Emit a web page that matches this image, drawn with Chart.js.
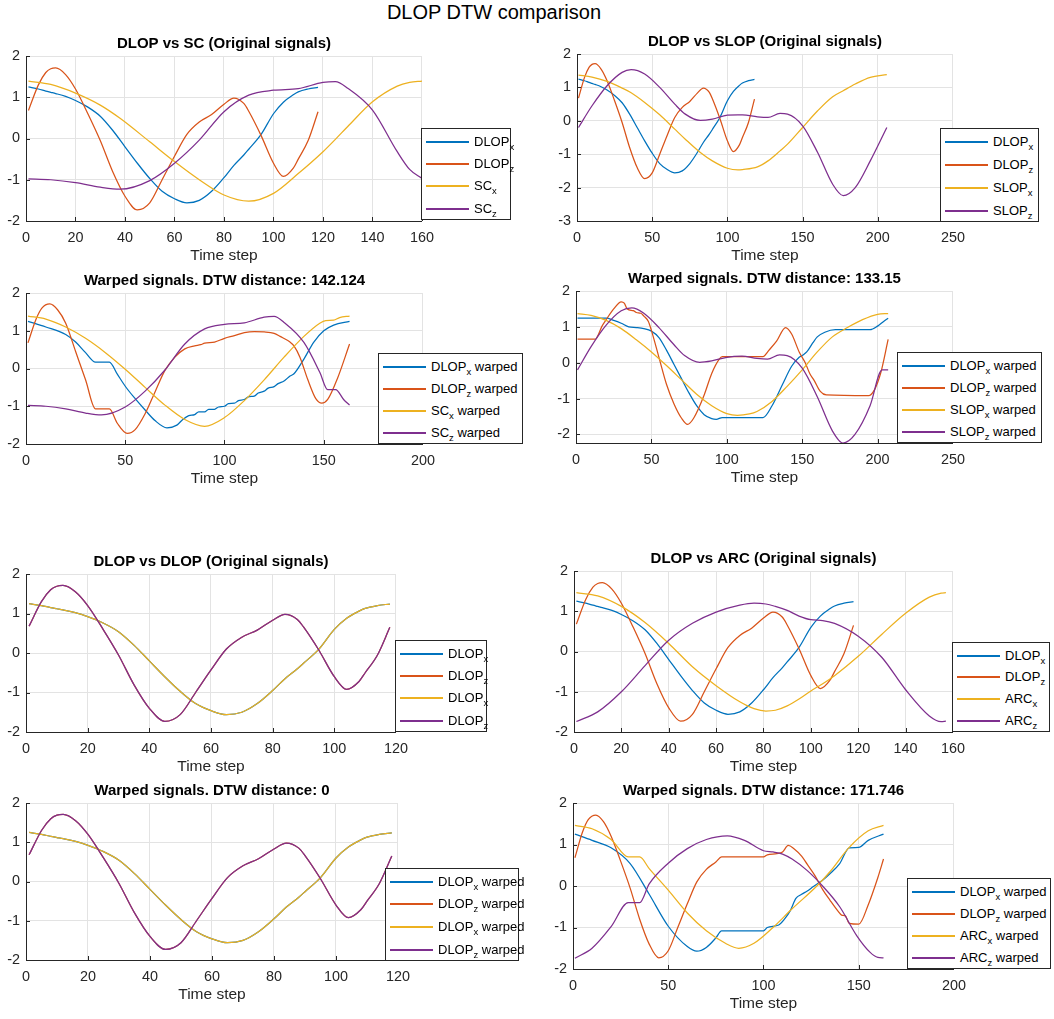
<!DOCTYPE html>
<html>
<head>
<meta charset="utf-8">
<title>DLOP DTW comparison</title>
<script src="https://cdn.jsdelivr.net/npm/chart.js@4.4.0/dist/chart.umd.min.js"></script>
<style>
  html, body { margin: 0; padding: 0; background: #fff; }
  body { width: 1054px; height: 1019px; position: relative; overflow: hidden;
         font-family: "Liberation Sans", Arial, Helvetica, sans-serif; }
  canvas.cv { position: absolute; }
  #suptitle { position: absolute; left: 294px; width: 400px; top: 0px; text-align: center;
              font-size: 20px; line-height: 24px; color: #000; }
  .lg { position: absolute; background: #fff; border: 1px solid #262626; box-sizing: border-box; z-index: 5; }
  .sw { position: absolute; height: 2px; }
  .tx { position: absolute; white-space: nowrap; font-size: 13px; line-height: 15px; height: 15px; color: #000; }
  .tx sub { font-size: 9.5px; vertical-align: -4px; line-height: 0; }
</style>
</head>
<body>
<div id="suptitle">DLOP DTW comparison</div>
<script>
// ---- original signals ----
const dlopT = [1,5,8,10,12,16,20,25,30,35,40,45,50,55,60,65,70,75,80,84,88,90,95,100,104,108,110,114,118];
const dlopX = [1.25,1.2,1.15,1.12,1.09,1.02,0.92,0.76,0.54,0.2,-0.2,-0.6,-0.97,-1.28,-1.46,-1.56,-1.5,-1.28,-0.95,-0.65,-0.4,-0.26,0.1,0.6,0.88,1.06,1.13,1.2,1.24];
const dlopZ = [0.68,1.3,1.6,1.69,1.71,1.55,1.2,0.6,-0.05,-0.8,-1.4,-1.73,-1.56,-1.0,-0.43,0.1,0.4,0.58,0.83,0.98,0.85,0.66,0.07,-0.6,-0.92,-0.72,-0.5,-0.05,0.65];

const scT = [1,10,20,30,38,50,60,70,80,90,100,110,120,125,130,140,150,155,160];
const scX = [1.39,1.31,1.1,0.81,0.49,-0.08,-0.56,-1.0,-1.37,-1.52,-1.33,-0.85,-0.32,-0.02,0.29,0.89,1.27,1.36,1.39];
const scZ = [-0.98,-1.0,-1.07,-1.18,-1.23,-1.02,-0.6,-0.04,0.65,1.05,1.17,1.21,1.36,1.38,1.22,0.69,-0.32,-0.75,-0.97];

const slopT = [1,10,20,30,36,45,55,65,72,82,90,100,107,110,120,127,135,140,150,160,170,177,185,195,206];
const slopX = [1.37,1.31,1.18,0.98,0.84,0.55,0.18,-0.25,-0.55,-0.95,-1.2,-1.42,-1.47,-1.46,-1.38,-1.2,-0.9,-0.7,-0.2,0.3,0.72,0.9,1.1,1.3,1.38];
const slopZ = [-0.2,0.45,1.05,1.45,1.53,1.4,1.0,0.5,0.2,0.01,0.05,0.17,0.18,0.18,0.12,0.1,0.22,0.2,-0.15,-0.95,-1.9,-2.24,-2.0,-1.2,-0.2];

const arcT = [1,10,20,30,40,50,60,70,76,81,85,90,95,100,105,110,120,130,140,150,155,157];
const arcX = [1.46,1.38,1.12,0.72,0.2,-0.38,-0.85,-1.25,-1.42,-1.48,-1.46,-1.35,-1.18,-0.98,-0.8,-0.6,-0.12,0.43,0.95,1.35,1.45,1.46];
const arcZ = [-1.74,-1.5,-1.0,-0.35,0.28,0.7,0.98,1.15,1.2,1.18,1.12,1.02,0.88,0.79,0.77,0.7,0.38,-0.15,-0.95,-1.6,-1.74,-1.73];

// ---- warped signals: DLOP vs SC ----
const swDlopXT = [1,10,20,25,30,35,42,46,50,55,60,65,71,76,79,82,85,87,90,92,95,97,100,102,105,107,110,112,115,117,120,122,125,127,130,133,135,140,145,150,155,163];
const swDlopX = [1.25,1.1,0.9,0.7,0.42,0.17,0.17,-0.15,-0.47,-0.8,-1.1,-1.38,-1.57,-1.5,-1.35,-1.25,-1.22,-1.15,-1.15,-1.08,-1.08,-1.02,-1.0,-0.93,-0.92,-0.85,-0.82,-0.75,-0.73,-0.65,-0.6,-0.52,-0.48,-0.4,-0.33,-0.2,-0.14,0.25,0.7,1.0,1.15,1.25];
const swDlopZT = [1,5,8,12,16,20,25,30,35,42,46,51,55,60,65,70,75,80,85,88,90,95,100,105,110,115,120,125,128,133,135,138,142,146,149,152,157,163];
const swDlopZ = [0.68,1.3,1.6,1.71,1.55,1.2,0.45,-0.3,-1.07,-1.07,-1.45,-1.72,-1.62,-1.2,-0.62,-0.05,0.3,0.52,0.6,0.63,0.67,0.7,0.8,0.87,0.95,0.98,0.97,0.93,0.85,0.7,0.6,0.3,-0.3,-0.8,-0.92,-0.82,-0.25,0.65];
const swScXT = [1,10,20,30,40,50,60,70,80,90,100,110,120,130,140,148,151,155,158,163];
const swScX = [1.39,1.31,1.1,0.8,0.42,-0.02,-0.5,-0.97,-1.35,-1.53,-1.3,-0.85,-0.3,0.3,0.85,1.2,1.27,1.28,1.35,1.39];
const swScZT = [1,10,20,30,38,50,60,70,80,90,100,110,120,125,130,140,148,152,156,160,163];
const swScZ = [-0.98,-1.0,-1.07,-1.18,-1.23,-1.02,-0.6,-0.04,0.65,1.05,1.17,1.21,1.36,1.38,1.22,0.69,-0.1,-0.56,-0.56,-0.82,-0.97];

// ---- warped signals: DLOP vs SLOP ----
const lwDlopXT = [1,20,25,30,35,40,45,50,55,60,65,70,75,80,85,90,93,97,124,130,137,143,148,150,153,157,160,165,172,195,200,204,207];
const lwDlopX = [1.24,1.24,1.18,1.1,1.0,0.98,0.95,0.88,0.7,0.35,-0.05,-0.45,-0.85,-1.2,-1.45,-1.56,-1.58,-1.53,-1.53,-1.2,-0.6,-0.1,0.15,0.2,0.3,0.55,0.72,0.85,0.92,0.92,1.02,1.15,1.24];
const lwDlopZT = [1,13,15,17,20,25,30,32,34,38,40,43,45,48,50,55,60,65,70,74,78,85,90,95,97,124,128,133,139,143,148,152,155,158,162,166,194,198,202,207];
const lwDlopZ = [0.66,0.66,0.8,1.0,1.2,1.5,1.7,1.66,1.5,1.45,1.4,1.38,1.3,1.15,0.9,0.15,-0.6,-1.15,-1.55,-1.72,-1.55,-0.9,-0.3,0.1,0.17,0.17,0.35,0.6,0.98,0.8,0.3,0.0,-0.3,-0.5,-0.8,-0.9,-0.92,-0.75,-0.3,0.65];
const lwSlopXT = [1,10,20,30,40,50,60,70,80,90,100,107,115,120,130,140,150,160,170,180,190,200,207];
const lwSlopX = [1.37,1.32,1.18,0.95,0.64,0.3,-0.08,-0.48,-0.88,-1.2,-1.42,-1.47,-1.43,-1.36,-1.08,-0.66,-0.2,0.3,0.72,0.98,1.2,1.35,1.37];
const lwSlopZT = [1,10,20,30,37,45,55,65,72,82,90,100,110,120,127,135,140,150,160,170,177,185,195,203,207];
const lwSlopZ = [-0.2,0.45,1.05,1.45,1.53,1.38,0.98,0.5,0.2,0.01,0.05,0.15,0.18,0.12,0.1,0.22,0.2,-0.15,-0.95,-1.9,-2.24,-2.0,-1.2,-0.2,-0.2];

// ---- warped signals: DLOP vs ARC ----
const awDlopXT = [1,10,20,30,40,50,60,65,70,75,78,100,102,108,111,114,117,120,123,126,129,131,135,140,145,150,155,163];
const awDlopX = [1.25,1.1,0.92,0.54,-0.2,-0.97,-1.46,-1.57,-1.48,-1.25,-1.08,-1.08,-1.0,-0.94,-0.8,-0.6,-0.3,-0.2,-0.12,-0.02,0.08,0.14,0.3,0.54,0.92,0.93,1.1,1.25];
const awDlopZT = [1,5,8,12,16,20,25,30,35,40,45,50,55,60,65,70,75,78,100,102,107,110,113,116,120,123,127,131,135,139,141,143,145,150,155,160,163];
const awDlopZ = [0.68,1.3,1.6,1.71,1.55,1.2,0.6,-0.05,-0.8,-1.4,-1.73,-1.56,-1.0,-0.43,0.1,0.4,0.58,0.7,0.7,0.75,0.78,0.82,0.98,0.9,0.72,0.52,0.25,-0.08,-0.35,-0.6,-0.7,-0.72,-0.9,-0.92,-0.45,0.2,0.65];
const awArcXT = [1,10,20,29,35,40,50,60,70,80,87,95,105,115,128,135,145,155,163];
const awArcX = [1.46,1.38,1.12,0.7,0.7,0.42,-0.1,-0.65,-1.08,-1.38,-1.5,-1.38,-1.0,-0.55,0.0,0.35,0.93,1.33,1.46];
const awArcZT = [1,10,20,29,35,40,50,60,70,81,90,100,105,110,115,123,131,140,149,156,160,163];
const awArcZ = [-1.74,-1.5,-0.98,-0.4,-0.4,0.05,0.55,0.9,1.12,1.21,1.1,0.85,0.82,0.77,0.65,0.37,0.0,-0.5,-1.2,-1.6,-1.72,-1.73];

// ---- axis ticks ----
const ticks20to120 = [0,20,40,60,80,100,120];
const ticks20to160 = [0,20,40,60,80,100,120,140,160];
const ticks50to200 = [0,50,100,150,200];
const ticks50to250 = [0,50,100,150,200,250];
const yTicks2 = [-2,-1,0,1,2];
const yTicks3 = [-3,-2,-1,0,1,2];

const COLORS = ['#0072BD', '#D95319', '#EDB120', '#7E2F8E'];

function names(a, b, suffix) {
  return [[a,'x',suffix],[a,'z',suffix],[b,'x',suffix],[b,'z',suffix]];
}

// plot box [left, top, right, bottom] and legend box in page pixels
const panels = [
  { box:[26,56,422,221], title:'DLOP vs SC (Original signals)', xMax:160, xTicks:ticks20to160, yMin:-2, yTicks:yTicks2,
    series:[[dlopT,dlopX],[dlopT,dlopZ],[scT,scX],[scT,scZ]], leg:[421,128,511,220], labels:names('DLOP','SC','') },
  { box:[577,54,953,221], title:'DLOP vs SLOP (Original signals)', xMax:250, xTicks:ticks50to250, yMin:-3, yTicks:yTicks3,
    series:[[dlopT,dlopX],[dlopT,dlopZ],[slopT,slopX],[slopT,slopZ]], leg:[940,128,1039,222], labels:names('DLOP','SLOP','') },
  { box:[26,293,423,444], title:'Warped signals. DTW distance: 142.124', xMax:200, xTicks:ticks50to200, yMin:-2, yTicks:yTicks2,
    series:[[swDlopXT,swDlopX],[swDlopZT,swDlopZ],[swScXT,swScX],[swScZT,swScZ]], leg:[378,353,523,444], labels:names('DLOP','SC',' warped') },
  { box:[576,291,953,443], title:'Warped signals. DTW distance: 133.15', xMax:250, xTicks:ticks50to250, yMin:-2.24, yTicks:yTicks2,
    series:[[lwDlopXT,lwDlopX],[lwDlopZT,lwDlopZ],[lwSlopXT,lwSlopX],[lwSlopZT,lwSlopZ]], leg:[897,352,1042,443], labels:names('DLOP','SLOP',' warped') },
  { box:[26,574,396,732], title:'DLOP vs DLOP (Original signals)', xMax:120, xTicks:ticks20to120, yMin:-2, yTicks:yTicks2,
    series:[[dlopT,dlopX],[dlopT,dlopZ],[dlopT,dlopX],[dlopT,dlopZ]], leg:[395,640,487,732], labels:names('DLOP','DLOP','') },
  { box:[574,571,953,732], title:'DLOP vs ARC (Original signals)', xMax:160, xTicks:ticks20to160, yMin:-2, yTicks:yTicks2,
    series:[[dlopT,dlopX],[dlopT,dlopZ],[arcT,arcX],[arcT,arcZ]], leg:[952,642,1050,732], labels:names('DLOP','ARC','') },
  { box:[26,803,398,960], title:'Warped signals. DTW distance: 0', xMax:120, xTicks:ticks20to120, yMin:-2, yTicks:yTicks2,
    series:[[dlopT,dlopX],[dlopT,dlopZ],[dlopT,dlopX],[dlopT,dlopZ]], leg:[385,868,519,961], labels:names('DLOP','DLOP',' warped') },
  { box:[573,803,954,969], title:'Warped signals. DTW distance: 171.746', xMax:200, xTicks:ticks50to200, yMin:-2, yTicks:yTicks2,
    series:[[awDlopXT,awDlopX],[awDlopZT,awDlopZ],[awArcXT,awArcX],[awArcZT,awArcZ]], leg:[907,878,1051,969], labels:names('DLOP','ARC',' warped') }
];

// axes title above each plot area plus short inward tick marks
const axesDecor = {
  id: 'axesDecor',
  afterDraw(chart, args, opts) {
    const { ctx, chartArea: a, scales } = chart;
    ctx.save();
    ctx.strokeStyle = '#262626';
    ctx.lineWidth = 1;
    ctx.beginPath();
    scales.x.ticks.forEach(t => {
      const px = Math.round(scales.x.getPixelForValue(t.value)) + 0.5;
      ctx.moveTo(px, a.bottom); ctx.lineTo(px, a.bottom - 4);
    });
    scales.y.ticks.forEach(t => {
      const py = Math.round(scales.y.getPixelForValue(t.value)) + 0.5;
      ctx.moveTo(a.left, py); ctx.lineTo(a.left + 4, py);
    });
    ctx.stroke();
    ctx.font = 'bold 15px "Liberation Sans", Arial, sans-serif';
    ctx.fillStyle = '#000';
    ctx.textAlign = 'center';
    ctx.textBaseline = 'middle';
    ctx.fillText(opts.text, (a.left + a.right) / 2, a.top - 12.5);
    ctx.restore();
  }
};

const PAD_L = 34, PAD_T = 32, PAD_R = 20, PAD_B = 46;

panels.forEach(p => {
  const [L, T, R, B] = p.box;
  const W = R - L + PAD_L + PAD_R, H = B - T + PAD_T + PAD_B;
  const cv = document.createElement('canvas');
  cv.className = 'cv';
  cv.width = W; cv.height = H;
  cv.style.left = (L - PAD_L) + 'px';
  cv.style.top = (T - PAD_T) + 'px';
  cv.style.width = W + 'px'; cv.style.height = H + 'px';
  document.body.appendChild(cv);

  new Chart(cv, {
    type: 'line',
    data: {
      // later series are painted over earlier ones
      datasets: p.series.map((s, i) => ({
        data: s[0].map((t, k) => ({ x: t, y: s[1][k] })),
        borderColor: COLORS[i],
        borderWidth: 1.25,
        pointRadius: 0,
        fill: false,
        order: p.series.length - i,
        cubicInterpolationMode: 'monotone'
      }))
    },
    options: {
      responsive: false,
      animation: false,
      events: [],
      layout: { padding: { top: PAD_T, right: PAD_R, left: 0, bottom: 0 }, autoPadding: false },
      plugins: { legend: { display: false }, tooltip: { enabled: false }, axesDecor: { text: p.title } },
      scales: {
        x: {
          type: 'linear', min: 0, max: p.xMax,
          afterBuildTicks: s => { s.ticks = p.xTicks.map(v => ({ value: v })); },
          afterFit: s => { s.height = PAD_B; },
          grid: { color: '#e3e3e3', lineWidth: 1, drawTicks: false },
          border: { color: '#262626', width: 1 },
          ticks: { color: '#262626', font: { size: 14.4, family: '"Liberation Sans", Arial, sans-serif' },
                   padding: 8, maxRotation: 0, autoSkip: false, callback: v => String(v) },
          title: { display: true, text: 'Time step', color: '#262626', padding: { top: 0, bottom: 2 },
                   font: { size: 15.5, family: '"Liberation Sans", Arial, sans-serif' } }
        },
        y: {
          type: 'linear', min: p.yMin, max: 2,
          afterBuildTicks: s => { s.ticks = p.yTicks.map(v => ({ value: v })); },
          afterFit: s => { s.width = PAD_L; },
          grid: { color: '#e3e3e3', lineWidth: 1, drawTicks: false },
          border: { color: '#262626', width: 1 },
          ticks: { color: '#262626', font: { size: 14.4, family: '"Liberation Sans", Arial, sans-serif' },
                   padding: 6, callback: v => String(v) }
        }
      }
    },
    plugins: [axesDecor]
  });

  // legend box with sample lines and subscripted labels
  const [l, t, r, b] = p.leg;
  const lg = document.createElement('div');
  lg.className = 'lg';
  lg.style.left = l + 'px'; lg.style.top = t + 'px';
  lg.style.width = (r - l) + 'px'; lg.style.height = (b - t) + 'px';
  const step = (b - t - 25) / 3;
  p.labels.forEach((lab, i) => {
    const cy = Math.round(12.5 + i * step);
    const sw = document.createElement('div');
    sw.className = 'sw';
    sw.style.left = '4px'; sw.style.width = '43px'; sw.style.top = (cy - 1) + 'px';
    sw.style.backgroundColor = COLORS[i];
    lg.appendChild(sw);
    const tx = document.createElement('div');
    tx.className = 'tx';
    tx.style.left = '52px'; tx.style.top = (cy - 8) + 'px';
    tx.appendChild(document.createTextNode(lab[0]));
    const sub = document.createElement('sub');
    sub.textContent = lab[1];
    tx.appendChild(sub);
    if (lab[2]) tx.appendChild(document.createTextNode(lab[2]));
    lg.appendChild(tx);
  });
  document.body.appendChild(lg);
});
</script>
</body>
</html>
